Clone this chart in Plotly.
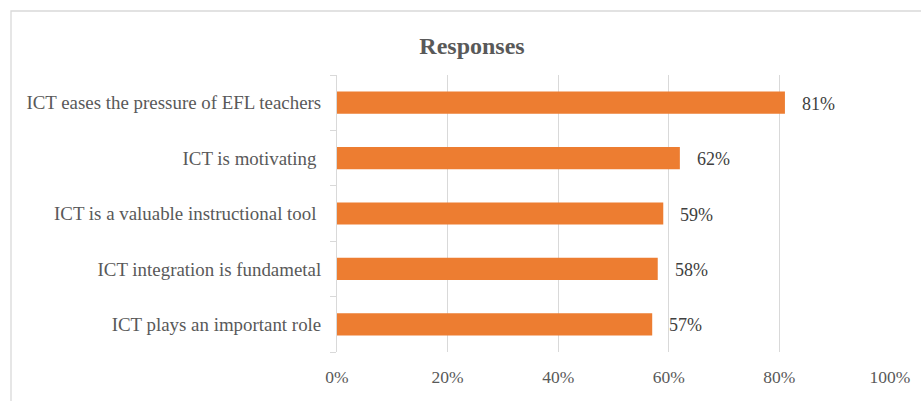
import plotly.graph_objects as go

categories = [
    "ICT eases the pressure of EFL teachers",
    "ICT is motivating\u00a0",
    "ICT is a valuable instructional tool\u00a0",
    "ICT integration is fundametal",
    "ICT plays an important role",
]
values = [0.81, 0.62, 0.59, 0.58, 0.57]
value_labels = ["81%", "62%", "59%", "58%", "57%"]
x_tickvals = [0, 0.2, 0.4, 0.6, 0.8, 1.0]
x_ticktext = ["0%", "20%", "40%", "60%", "80%", "100%"]

W, H = 921, 401
ML, MR, MT, MB = 337, 31, 75, 49
pw = W - ML - MR
ph = H - MT - MB

FONT = "Liberation Serif"
GREY = "#d9d9d9"

fig = go.Figure()
fig.add_trace(go.Bar(
    x=values, y=categories, orientation="h",
    marker=dict(color="#ED7D31", line=dict(width=0)),
    hoverinfo="skip",
))

for v, c, t in zip(values, categories, value_labels):
    fig.add_annotation(x=v, y=c, text=t, showarrow=False, xanchor="left",
                       xshift=15, yshift=-1,
                       font=dict(family=FONT, size=18, color="#404040"))

# chart frame (light grey border)
fig.add_shape(type="rect", xref="paper", yref="paper",
              x0=(11 - ML) / pw, x1=(W + 20 - ML) / pw,
              y0=-(H + 20 - MT - ph) / ph, y1=1 + (MT - 11) / ph,
              line=dict(color=GREY, width=1.3), fillcolor="rgba(0,0,0,0)", layer="below")

fig.update_layout(
    width=W, height=H,
    margin=dict(l=ML, r=MR, t=MT, b=MB),
    paper_bgcolor="white", plot_bgcolor="white",
    bargap=0.6,
    showlegend=False,
    title=dict(text="<b>Responses</b>", x=472 / W, xanchor="center",
               y=1 - 46 / H, yanchor="middle", xref="container", yref="container",
               font=dict(family=FONT, size=24, color="#595959")),
    xaxis=dict(range=[0, 1.0], tickvals=x_tickvals, ticktext=x_ticktext,
               showgrid=True, gridcolor=GREY, gridwidth=1,
               zeroline=False, showline=False, ticks="outside", ticklen=9,
               tickcolor="rgba(0,0,0,0)",
               tickfont=dict(family=FONT, size=17.5, color="#595959")),
    yaxis=dict(categoryorder="array", categoryarray=categories[::-1],
               showline=True, linecolor=GREY, linewidth=1,
               ticks="outside", ticklen=6, tickcolor=GREY, tickson="boundaries",
               showgrid=False, ticklabelstandoff=11,
               tickfont=dict(family=FONT, size=18.9, color="#595959")),
)

fig.write_html("out.html", config={"displayModeBar": False},
               post_script="document.body.style.margin='0';document.body.style.padding='0';")
